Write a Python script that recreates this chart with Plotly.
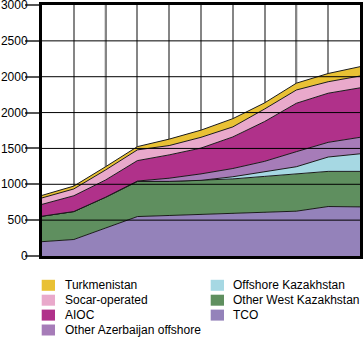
import plotly.graph_objects as go

# ---- data ----
x_idx = list(range(11))
tco = [200, 230, 390, 550, 565, 580, 595, 605, 625, 690, 685]
other_west_kaz = [355, 390, 430, 490, 475, 475, 480, 505, 520, 490, 495]
offshore_kaz = [0, 0, 0, 0, 0, 0, 30, 60, 100, 200, 245]
other_az = [0, 0, 0, 5, 45, 90, 115, 150, 210, 205, 230]
aioc = [165, 220, 240, 285, 325, 360, 440, 555, 675, 685, 690]
socar = [90, 95, 140, 150, 130, 150, 140, 175, 185, 160, 165]
turkmen = [35, 40, 45, 45, 90, 100, 115, 85, 95, 115, 130]

ytick_vals = [0, 500, 1000, 1500, 2000, 2500, 3000, 3500]
ytick_text = ["0", "500", "1000", "1500", "2000", "2000", "2500", "3000"]

series = [
    ("TCO", tco, "#9482BA"),
    ("Other West Kazakhstan", other_west_kaz, "#5F8F5F"),
    ("Offshore Kazakhstan", offshore_kaz, "#A6D8E3"),
    ("Other Azerbaijan offshore", other_az, "#A67CB8"),
    ("AIOC", aioc, "#B0318A"),
    ("Socar-operated", socar, "#E9A9CB"),
    ("Turkmenistan", turkmen, "#E9C134"),
]
colors = {n: c for n, _, c in series}

legend_col1 = ["Turkmenistan", "Socar-operated", "AIOC", "Other Azerbaijan offshore"]
legend_col2 = ["Offshore Kazakhstan", "Other West Kazakhstan", "TCO"]

W, H = 364, 337
ML, MR, MT, MB = 42, 4, 5, 81
PW, PH = W - ML - MR, H - MT - MB


def xp(px):
    return (px - ML) / PW


def yp(py):
    return (H - MB - py) / PH


fig = go.Figure()
for name, vals, col in series:
    fig.add_trace(go.Scatter(
        x=x_idx, y=vals, name=name, stackgroup="one", mode="lines",
        line=dict(color="#1a1a1a", width=1), fillcolor=col,
        showlegend=False, hoverinfo="skip"))

shapes = []
# black vertical lines among grey grid
for xv in [2, 8]:
    shapes.append(dict(type="line", xref="x", yref="paper", x0=xv, x1=xv, y0=0, y1=1,
                       line=dict(color="black", width=1.5), layer="between"))
# horizontal gridlines above the areas
for yv in ytick_vals[1:-1]:
    shapes.append(dict(type="line", xref="paper", yref="y", x0=0, x1=1, y0=yv, y1=yv,
                       line=dict(color="black", width=1), layer="above"))

annotations = []
row_y = [285.3, 300.2, 315.1, 330.0]
for col_items, sx0, tx in [(legend_col1, 41.7, 63), (legend_col2, 210.7, 231)]:
    for i, name in enumerate(col_items):
        cy = row_y[i]
        shapes.append(dict(type="rect", xref="paper", yref="paper",
                           x0=xp(sx0), x1=xp(sx0 + 13.3), y0=yp(cy - 5.5), y1=yp(cy + 5.5),
                           fillcolor=colors[name], line=dict(width=0), layer="above"))
        annotations.append(dict(text=name, xref="paper", yref="paper", x=xp(tx), y=yp(cy),
                                xanchor="left", yanchor="middle", showarrow=False,
                                font=dict(family="Liberation Sans, Arial", size=12, color="black")))

fig.update_layout(
    width=W, height=H,
    margin=dict(l=ML, r=MR, t=MT, b=MB, autoexpand=False),
    paper_bgcolor="white", plot_bgcolor="white",
    shapes=shapes, annotations=annotations,
    font=dict(family="Liberation Sans, Arial", size=12, color="black"),
    xaxis=dict(range=[0, 10], dtick=1, showgrid=True, gridcolor="#858585", gridwidth=1.5,
               showticklabels=False, ticks="", zeroline=False, automargin=False,
               showline=True, linecolor="black", linewidth=3, mirror=True),
    yaxis=dict(range=[0, 3500], tickvals=ytick_vals, ticktext=ytick_text,
               showgrid=False, zeroline=False, ticks="outside", ticklen=14,
               tickcolor="#555555", tickwidth=1.5, automargin=False,
               ticklabelstandoff=-5, ticklabeloverflow="allow",
               showline=True, linecolor="black", linewidth=3, mirror=True,
               tickfont=dict(family="Liberation Sans, Arial", size=12, color="black")),
)

fig.write_html("out.html")
